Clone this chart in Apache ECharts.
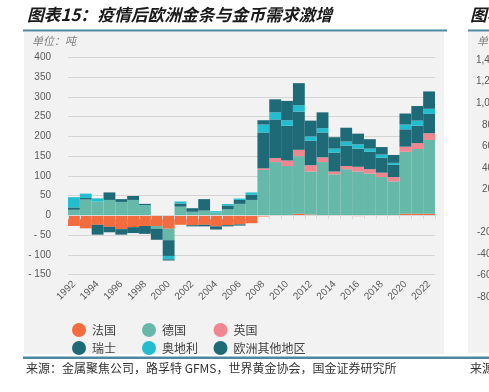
<!DOCTYPE html>
<html>
<head>
<meta charset="utf-8">
<script src="https://cdn.jsdelivr.net/npm/echarts@6/dist/echarts.min.js"></script>
<style>
html,body{margin:0;padding:0;background:#fff;}
#c{width:489px;height:392px;}
</style>
</head>
<body>
<div id="c"></div>
<script>
var years = ['1992','1993','1994','1995','1996','1997','1998','1999','2000','2001','2002','2003','2004','2005','2006','2007','2008','2009','2010','2011','2012','2013','2014','2015','2016','2017','2018','2019','2020','2021','2022'];
var france  = [-27,-33,-24,-29,-35,-30,-27,-27,-34,-24,-25,-24,-28,-25,-23,-20,-3,0,0,4,2,0,0,0,-2,0,0,0,4,4,4];
var germany = [14,40,35,39,34,39,26,-7,-29,22,9,12,7,15,29,39,115,135,125,146,109,135,104,117,111,106,97,86,157,164,187];
var uk      = [0,0,0,0,0,0,0,0,0,0,0,0,0,0,0,0,4,10,14,16,16,12,7,8,12,11,11,11,13,15,17];
var swiss   = [6,4,0,19,7,10,3,0,-40,8,9,29,0,10,10,13,91,98,88,97,62,63,48,52,46,44,38,31,44,44,49];
var austria = [26,11,8,0,0,0,0,0,-8.5,5,0,0,3.5,3.5,3.5,6,20,18,14,16,11,11,10,10,11,8,8,5,12,13,13];
var other   = [0,0,-25,-14,-14,-15,-20,-28,-3,0,-3,-4,-8,-3,-3,0,11,33,49,56,40,40,29,35,27,24,19,20,28,37,44];
var seriesNames = ['法国','德国','英国','瑞士','奥地利','欧洲其他地区'];
var seriesData = [france, germany, uk, swiss, austria, other];
var colors = ['#F26C3F','#66B8A8','#F08690','#1F6A77','#22BDCE','#1F6A77'];

var chart = echarts.init(document.getElementById('c'));
var FONT = '"Liberation Sans", Arial, "Noto Sans CJK SC", sans-serif';
var CJK = '"Noto Sans CJK SC", sans-serif';

var series = seriesNames.map(function(n, i){
  return {
    name: n, type: 'bar', stack: 'all', xAxisIndex: 0,
    data: seriesData[i], barCategoryGap: '0%',
    itemStyle: {color: colors[i]}, z: 2
  };
});

function legendCol(left, names){
  return {
    orient: 'vertical', left: left, top: 318, itemGap: 4,
    icon: 'circle', itemWidth: 14, itemHeight: 14,
    textStyle: {fontSize: 12, color: '#404040', fontFamily: CJK, padding: [0,0,0,1]},
    data: names, selectedMode: false
  };
}

chart.setOption({
  animation: false,
  color: colors,
  grid: {left: 68, right: 54, top: 57.5, bottom: 117.5, containLabel: false},
  legend: [legendCol(67, ['法国','瑞士']), legendCol(137, ['德国','奥地利']), legendCol(208.5, ['英国','欧洲其他地区'])],
  xAxis: [{
    type: 'category', data: years, position: 'bottom',
    axisLine: {show: false, onZero: false}, axisTick: {show: false},
    axisLabel: {interval: 1, rotate: 45, margin: 8, fontSize: 10, color: '#595959', fontFamily: FONT},
    splitLine: {show: false}
  }, {
    type: 'category', data: years, position: 'top', z: 10,
    axisLine: {show: true, onZero: true, lineStyle: {color: '#d9d9d9', width: 1}},
    axisTick: {show: true, inside: true, length: 4, interval: 0, lineStyle: {color: '#d9d9d9'}},
    axisLabel: {show: false}, splitLine: {show: false}
  }],
  yAxis: {
    type: 'value', min: -150, max: 400, interval: 50,
    axisLine: {show: false}, axisTick: {show: false},
    axisLabel: {fontSize: 10, color: '#595959', margin: 17, fontFamily: FONT,
      formatter: function(v){ return v < 0 ? '- ' + Math.abs(v) : String(v); }},
    splitLine: {lineStyle: {color: '#d4d4d4', width: 1}}
  },
  graphic: [
    {type: 'rect', z: -10, shape: {x: 24, y: 32, width: 420, height: 322}, style: {fill: '#f2f2f2'}},
    {type: 'rect', z: -10, shape: {x: 468, y: 32, width: 30, height: 321}, style: {fill: '#f2f2f2'}},
    {type: 'rect', z: -9, shape: {x: 23, y: 29.5, width: 424, height: 2}, style: {fill: '#4E87A0'}},
    {type: 'rect', z: -9, shape: {x: 468, y: 29.5, width: 30, height: 2}, style: {fill: '#4E87A0'}},
    {type: 'rect', z: -9, shape: {x: 23, y: 356.5, width: 470, height: 2.5}, style: {fill: '#4E87A0'}},
    {type: 'text', left: 27, top: 6.5, style: {text: '图表15：疫情后欧洲金条与金币需求激增', font: 'italic bold 16.8px "Noto Sans CJK SC"', fill: '#1a1a1a'}},
    {type: 'text', left: 470, top: 6.5, style: {text: '图表', font: 'italic bold 16.8px "Noto Sans CJK SC"', fill: '#1a1a1a'}},
    {type: 'text', left: 32, top: 35, style: {text: '单位：吨', font: 'italic 11px "Noto Sans CJK SC"', fill: '#808080'}},
    {type: 'text', left: 477, top: 35, style: {text: '单位', font: 'italic 11px "Noto Sans CJK SC"', fill: '#808080'}},
    {type: 'text', left: 26, top: 362, style: {text: '来源：金属聚焦公司，路孚特 GFMS，世界黄金协会，国金证券研究所', font: '12px "Noto Sans CJK SC"', fill: '#333333'}},
    {type: 'text', left: 470, top: 362, style: {text: '来源', font: '12px "Noto Sans CJK SC"', fill: '#333333'}},
    {type: 'text', left: 476, top: 55, style: {text: '1,400', font: '10px "Liberation Sans"', fill: '#595959'}},
    {type: 'text', left: 476, top: 76, style: {text: '1,200', font: '10px "Liberation Sans"', fill: '#595959'}},
    {type: 'text', left: 476, top: 98, style: {text: '1,000', font: '10px "Liberation Sans"', fill: '#595959'}},
    {type: 'text', left: 482, top: 120, style: {text: '800', font: '10px "Liberation Sans"', fill: '#595959'}},
    {type: 'text', left: 482, top: 141, style: {text: '600', font: '10px "Liberation Sans"', fill: '#595959'}},
    {type: 'text', left: 482, top: 163, style: {text: '400', font: '10px "Liberation Sans"', fill: '#595959'}},
    {type: 'text', left: 482, top: 184, style: {text: '200', font: '10px "Liberation Sans"', fill: '#595959'}},
    {type: 'text', left: 477, top: 227, style: {text: '-200', font: '10px "Liberation Sans"', fill: '#595959'}},
    {type: 'text', left: 477, top: 249, style: {text: '-400', font: '10px "Liberation Sans"', fill: '#595959'}},
    {type: 'text', left: 477, top: 270, style: {text: '-600', font: '10px "Liberation Sans"', fill: '#595959'}},
    {type: 'text', left: 477, top: 292, style: {text: '-800', font: '10px "Liberation Sans"', fill: '#595959'}}
  ],
  series: series
});
</script>
</body>
</html>
